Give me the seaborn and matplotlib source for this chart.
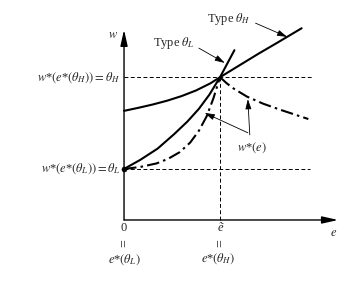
import matplotlib
matplotlib.use("Agg")
import matplotlib.pyplot as plt
import seaborn as sns

sns.set_theme(style="white")
plt.rcParams['font.family'] = ['Liberation Serif', 'DejaVu Serif']
plt.rcParams['mathtext.fontset'] = 'stix'

# values (e: effort, w: wage); e_tilde = 1, theta_L = 1
theta_L = 1.0
theta_H = 2.8
e_tilde = 1.0

typeH_e = [0.0, 0.15, 0.30, 0.45, 0.60, 0.75, 0.90, 1.0, 1.20, 1.40, 1.60, 1.85]
typeH_w = [2.14, 2.20, 2.265, 2.34, 2.43, 2.54, 2.68, 2.80, 3.03, 3.26, 3.48, 3.76]

typeL_e = [0.0, 0.17, 0.35, 0.52, 0.66, 0.78, 0.89, 1.0, 1.15]
typeL_w = [1.0, 1.18, 1.40, 1.68, 1.93, 2.18, 2.46, 2.80, 3.33]

wstar_left_e = [0.0, 0.17, 0.34, 0.46, 0.58, 0.69, 0.78, 0.86, 0.93, 1.0]
wstar_left_w = [1.0, 1.04, 1.11, 1.20, 1.33, 1.52, 1.75, 2.03, 2.38, 2.80]

wstar_right_e = [1.0, 1.07, 1.14, 1.28, 1.45, 1.63, 1.92]
wstar_right_w = [2.80, 2.68, 2.58, 2.42, 2.28, 2.16, 1.98]

e_axis_max = 2.23
w_axis_max = 3.73

fig = plt.figure(figsize=(3.5, 2.85), dpi=100)
ax = fig.add_axes([0, 0, 1, 1])
ax.set_xlim(-1.292, 2.354)
ax.set_ylim(-1.275, 4.314)
ax.axis('off')

# axes with arrows
ax.annotate("", xy=(0, w_axis_max), xytext=(0, 0),
            arrowprops=dict(arrowstyle="-|>,head_length=0.8,head_width=0.18", color="black", lw=1.0, shrinkA=0, shrinkB=0))
ax.annotate("", xy=(e_axis_max, 0), xytext=(0, 0),
            arrowprops=dict(arrowstyle="-|>,head_length=0.8,head_width=0.18", color="black", lw=1.0, shrinkA=0, shrinkB=0))

# reference lines
dash = (0, (4, 2.5))
ax.plot([0, 1.97], [theta_H, theta_H], color="black", lw=0.7, ls=dash)
ax.plot([0, 1.94], [theta_L, theta_L], color="black", lw=0.7, ls=dash)
ax.plot([e_tilde, e_tilde], [0, theta_H], color="black", lw=0.7, ls=dash)

# curves
sns.lineplot(x=typeH_e, y=typeH_w, ax=ax, color="black", lw=1.5, sort=False, estimator=None)
sns.lineplot(x=typeL_e, y=typeL_w, ax=ax, color="black", lw=1.5, sort=False, estimator=None)
dashdot = (0, (6, 2, 1.2, 2))
sns.lineplot(x=wstar_left_e, y=wstar_left_w, ax=ax, color="black", lw=1.5, sort=False,
             estimator=None, linestyle=dashdot)
sns.lineplot(x=wstar_right_e, y=wstar_right_w, ax=ax, color="black", lw=1.5, sort=False,
             estimator=None, linestyle=dashdot)
sns.scatterplot(x=[0.0], y=[theta_L], ax=ax, color="black", s=14, zorder=5, edgecolor="black")

fs = 9
# axis labels
ax.text(-0.115, 3.63, r"$w$", fontsize=fs, ha="center", va="center")
ax.text(2.18, -0.25, r"$e$", fontsize=fs, ha="center", va="center")

# left labels
ax.text(-0.04, theta_H, r"$w$*$(e$*$(\theta_H)) = \theta_H$", fontsize=fs, ha="right", va="center")
ax.text(-0.04, theta_L, r"$w$*$(e$*$(\theta_L)) = \theta_L$", fontsize=fs, ha="right", va="center")

# bottom labels
ax.text(0.0, -0.16, "0", fontsize=fs, ha="center", va="center")
ax.text(0.0, -0.45, "=", fontsize=10, ha="center", va="center", rotation=90)
ax.text(0.01, -0.78, r"$e$*$(\theta_L)$", fontsize=fs, ha="center", va="center")
ax.text(e_tilde, -0.16, "ẽ", fontsize=fs, style="italic", ha="center", va="center")
ax.text(e_tilde, -0.45, "=", fontsize=10, ha="center", va="center", rotation=90)
ax.text(0.98, -0.75, r"$e$*$(\theta_H)$", fontsize=fs, ha="center", va="center")

arrow_kw = dict(arrowstyle="-|>,head_length=0.5,head_width=0.15", color="black", lw=0.6, shrinkA=0, shrinkB=0)
# type labels with pointers
ax.text(1.094, 3.94, r"Type $\theta_H$", fontsize=fs, ha="center", va="center")
ax.annotate("", xy=(1.70, 3.59), xytext=(1.37, 3.86), arrowprops=arrow_kw)
ax.text(0.516, 3.47, r"Type $\theta_L$", fontsize=fs, ha="center", va="center")
ax.annotate("", xy=(1.05, 3.08), xytext=(0.78, 3.37), arrowprops=arrow_kw)

# w*(e) label with pointers
ax.text(1.333, 1.41, r"$w$*$(e)$", fontsize=fs, ha="center", va="center")
ax.annotate("", xy=(1.29, 2.37), xytext=(1.31, 1.67), arrowprops=arrow_kw)
ax.annotate("", xy=(0.84, 2.10), xytext=(1.29, 1.71), arrowprops=arrow_kw)

fig.savefig("out.png", dpi=100, facecolor="white")
